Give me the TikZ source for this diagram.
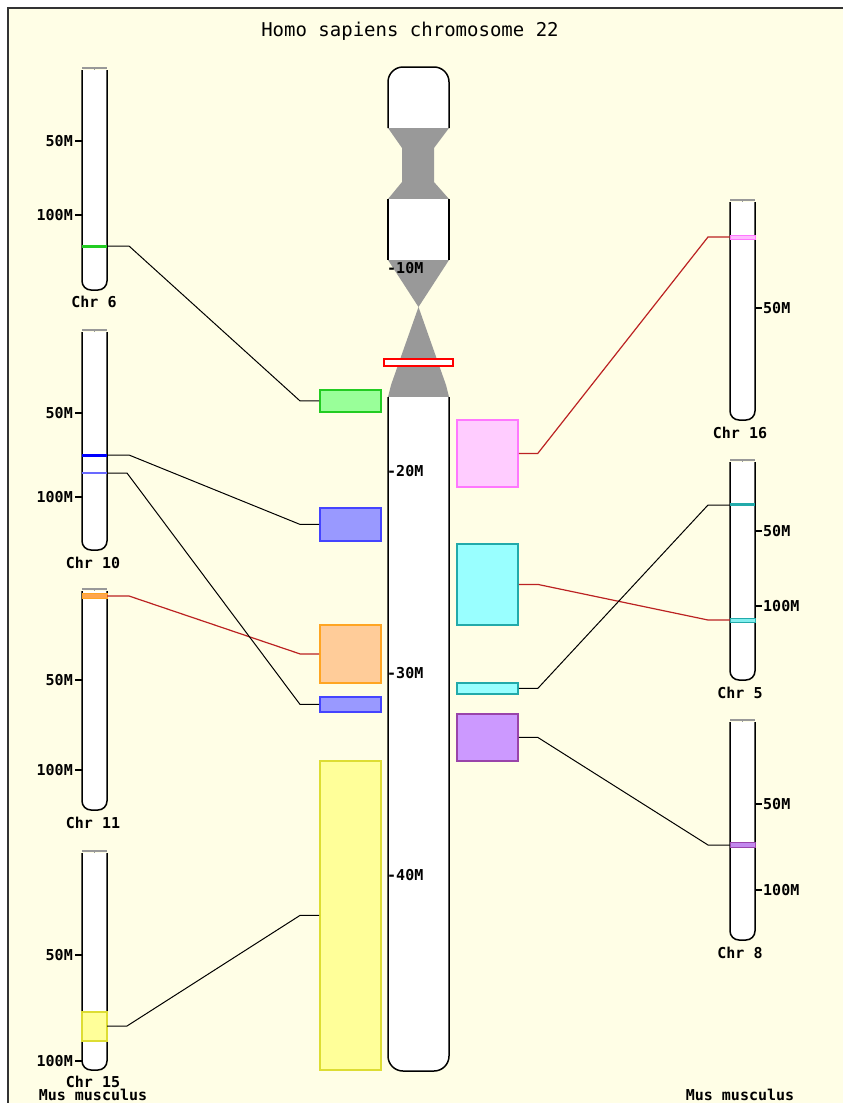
\documentclass[tikz,border=0pt]{standalone}
\usepackage{fontspec}
\newfontfamily\pixfont{DejaVu Sans Mono}
\definecolor{bgcream}{HTML}{FFFEE6}
\definecolor{framec}{HTML}{333333}
\definecolor{cengray}{HTML}{999999}
\definecolor{linkred}{HTML}{BB2222}
\definecolor{greenF}{HTML}{99FF99}\definecolor{greenD}{HTML}{22CC22}
\definecolor{blueF}{HTML}{9999FF}\definecolor{blueD}{HTML}{4444FF}
\definecolor{orangeF}{HTML}{FFCC99}\definecolor{orangeD}{HTML}{FFA522}
\definecolor{yellowF}{HTML}{FFFF99}\definecolor{yellowD}{HTML}{DDDD33}
\definecolor{pinkF}{HTML}{FFCCFF}\definecolor{pinkD}{HTML}{FF77FF}
\definecolor{cyanF}{HTML}{99FFFF}\definecolor{cyanD}{HTML}{22AAAA}
\definecolor{purpleF}{HTML}{CC99FF}\definecolor{purpleD}{HTML}{9944AA}
\tikzset{
  chr/.style={draw=black, line width=1.5pt, fill=white},
  capline/.style={draw=gray!80, line width=1.8pt},
  tick/.style={draw=black, line width=1.2pt},
  lab/.style={font=\pixfont\bfseries\fontsize{15}{15}\selectfont, inner sep=0pt},
  hitbox/.style={draw, line width=1.8pt, inner sep=0pt, anchor=north west},
  link/.style={draw=black, line width=1pt},
  redlink/.style={draw=linkred, line width=1.2pt},
}
% a mouse chromosome: left x, top y, bottom y
\newcommand\mchr[3]{%
  \path[chr, draw=none] (#1,#2) rectangle (#1+25,#3-8);
  \draw[chr, rounded corners=9pt] (#1,#2) -- (#1,#3) -- (#1+25,#3) -- (#1+25,#2);
  \draw[capline] (#1,#2-2) -- (#1+25,#2-2);
  \draw[capline] (#1+12.5,#2-2) -- (#1+12.5,#2);
}
\newcommand\ltick[2]{% left-side scale mark: y, text
  \draw[tick] (75,#1) -- (82,#1);
  \node[lab, anchor=east] at (73,#1) {#2};
}
\newcommand\rtick[2]{% right-side scale mark: y, text
  \draw[tick] (755,#1) -- (762,#1);
  \node[lab, anchor=west] at (763,#1) {#2};
}
\begin{document}
\begin{tikzpicture}[x=1pt, y=-1pt]
\useasboundingbox (0,0) rectangle (843,1103);
\fill[white] (0,0) rectangle (843,1103);
\fill[bgcream] (8,8) rectangle (843,1103);
\draw[framec, line width=2pt] (8,1103) -- (8,8) -- (843,8);

\node[font=\pixfont\fontsize{19}{19}\selectfont] (title) at (410,31) {Homo sapiens chromosome 22};

% ---- human chromosome 22 ----
\fill[white] (388,128) [rounded corners=15pt] -- (388,67) -- (449,67) [sharp corners] -- (449,128) -- cycle;
\draw[black, line width=1.5pt] (388,128) [rounded corners=15pt] -- (388,67) -- (449,67) [sharp corners] -- (449,128);
\fill[cengray] (388,128) -- (449,128) -- (434,148) -- (434,182) -- (449,199) -- (388,199) -- (402,182) -- (402,148) -- cycle;
\fill[white] (388,199) rectangle (449,260);
\draw[black, line width=1.5pt] (388,199) -- (388,260) (449,199) -- (449,260);
\fill[cengray] (388,260) -- (449,260) -- (418.5,307) -- cycle;
\fill[cengray] (418.5,307) -- (446,385) -- (449,397) -- (388,397) -- (391,385) -- cycle;
\fill[white] (388,397) [rounded corners=15pt] -- (388,1071) -- (449,1071) [sharp corners] -- (449,397) -- cycle;
\draw[black, line width=1.5pt] (388,397) [rounded corners=15pt] -- (388,1071) -- (449,1071) [sharp corners] -- (449,397);
\draw[red, line width=1.5pt, fill=white] (384,359) rectangle (453,366);
\node[lab, anchor=west] (t10) at (387,268) {-10M};
\node[lab, anchor=west] (t20) at (387,471) {-20M};
\node[lab, anchor=west] (t30) at (387,673) {-30M};
\node[lab, anchor=west] (t40) at (387,875) {-40M};

% ---- syntenic blocks ----
\node[hitbox, draw=greenD, fill=greenF, minimum width=61pt, minimum height=22pt] (g1) at (319,389) {};
\node[hitbox, draw=blueD, fill=blueF, minimum width=61pt, minimum height=33pt] (u1) at (319,507) {};
\node[hitbox, draw=orangeD, fill=orangeF, minimum width=61pt, minimum height=58pt] (o1) at (319,624) {};
\node[hitbox, draw=blueD, fill=blueF, minimum width=61pt, minimum height=15pt] (u2) at (319,696) {};
\node[hitbox, draw=yellowD, fill=yellowF, minimum width=61pt, minimum height=309pt] (y1) at (319,760) {};
\node[hitbox, draw=pinkD, fill=pinkF, minimum width=61pt, minimum height=67pt] (p1) at (456,419) {};
\node[hitbox, draw=cyanD, fill=cyanF, minimum width=61pt, minimum height=81pt] (c1) at (456,543) {};
\node[hitbox, draw=cyanD, fill=cyanF, minimum width=61pt, minimum height=11pt] (c2) at (456,682) {};
\node[hitbox, draw=purpleD, fill=purpleF, minimum width=61pt, minimum height=47pt] (v1) at (456,713) {};

% ---- mouse chromosomes, left column ----
\mchr{82}{70}{290}
\ltick{141}{50M}\ltick{215}{100M}
\draw[greenD, line width=3pt] (82,246) -- (107,246);
\coordinate (b6) at (107,246);
\node[lab] (n6) at (94,302) {Chr 6};

\mchr{82}{332}{550}
\ltick{413}{50M}\ltick{497}{100M}
\draw[blue, line width=3pt] (82,455) -- (107,455);
\draw[blueD!80, line width=2pt] (82,473) -- (107,473);
\coordinate (b10a) at (107,455);
\coordinate (b10b) at (107,473);
\node[lab] (n10) at (93,563) {Chr 10};

\mchr{82}{591}{810}
\ltick{680}{50M}\ltick{770}{100M}
\draw[orangeD, line width=1pt, fill=orange!70] (82,593) rectangle (107,598);
\coordinate (b11) at (107,596);
\node[lab] (n11) at (93,823) {Chr 11};

\mchr{82}{853}{1070}
\ltick{955}{50M}\ltick{1061}{100M}
\draw[yellowD, line width=1.2pt, fill=yellowF] (82,1012) rectangle (107,1041);
\coordinate (b15) at (107,1026);
\node[lab] (n15) at (93,1082) {Chr 15};
\node[lab] (sp1) at (93,1095) {Mus musculus};

% ---- mouse chromosomes, right column ----
\mchr{730}{202}{420}
\rtick{308}{50M}
\draw[pinkD, line width=1pt, fill=pinkF!80!pinkD] (730,235) rectangle (755,239);
\coordinate (b16) at (730,237);
\node[lab] (n16) at (740,433) {Chr 16};

\mchr{730}{462}{680}
\rtick{531}{50M}\rtick{606}{100M}
\draw[cyanD, line width=3pt] (730,504) -- (755,504);
\draw[cyanD, line width=1pt, fill=cyanF!80!cyanD] (730,618) rectangle (755,622);
\coordinate (b5a) at (730,505);
\coordinate (b5b) at (730,620);
\node[lab] (n5) at (740,693) {Chr 5};

\mchr{730}{722}{940}
\rtick{804}{50M}\rtick{890}{100M}
\draw[purpleD, line width=1pt, fill=purpleF!80!purpleD] (730,842) rectangle (755,847);
\coordinate (b8) at (730,845);
\node[lab] (n8) at (740,953) {Chr 8};
\node[lab] (sp2) at (740,1095) {Mus musculus};

% ---- connectors ----
\draw[link] (g1.west) -- ++(-19,0) -- ([xshift=22pt]b6) -- (b6);
\draw[link] (u1.west) -- ++(-19,0) -- ([xshift=22pt]b10a) -- (b10a);
\draw[redlink] (o1.west) -- ++(-19,0) -- ([xshift=22pt]b11) -- (b11);
\draw[link] (u2.west) -- ++(-19,0) -- ([xshift=20pt]b10b) -- (b10b);
\draw[link] (y1.west) -- ++(-19,0) -- ([xshift=20pt]b15) -- (b15);
\draw[redlink] (p1.east) -- ++(19,0) -- ([xshift=-22pt]b16) -- (b16);
\draw[redlink] (c1.east) -- ++(19,0) -- ([xshift=-22pt]b5b) -- (b5b);
\draw[link] (c2.east) -- ++(19,0) -- ([xshift=-22pt]b5a) -- (b5a);
\draw[link] (v1.east) -- ++(19,0) -- ([xshift=-22pt]b8) -- (b8);
\end{tikzpicture}
\end{document}
